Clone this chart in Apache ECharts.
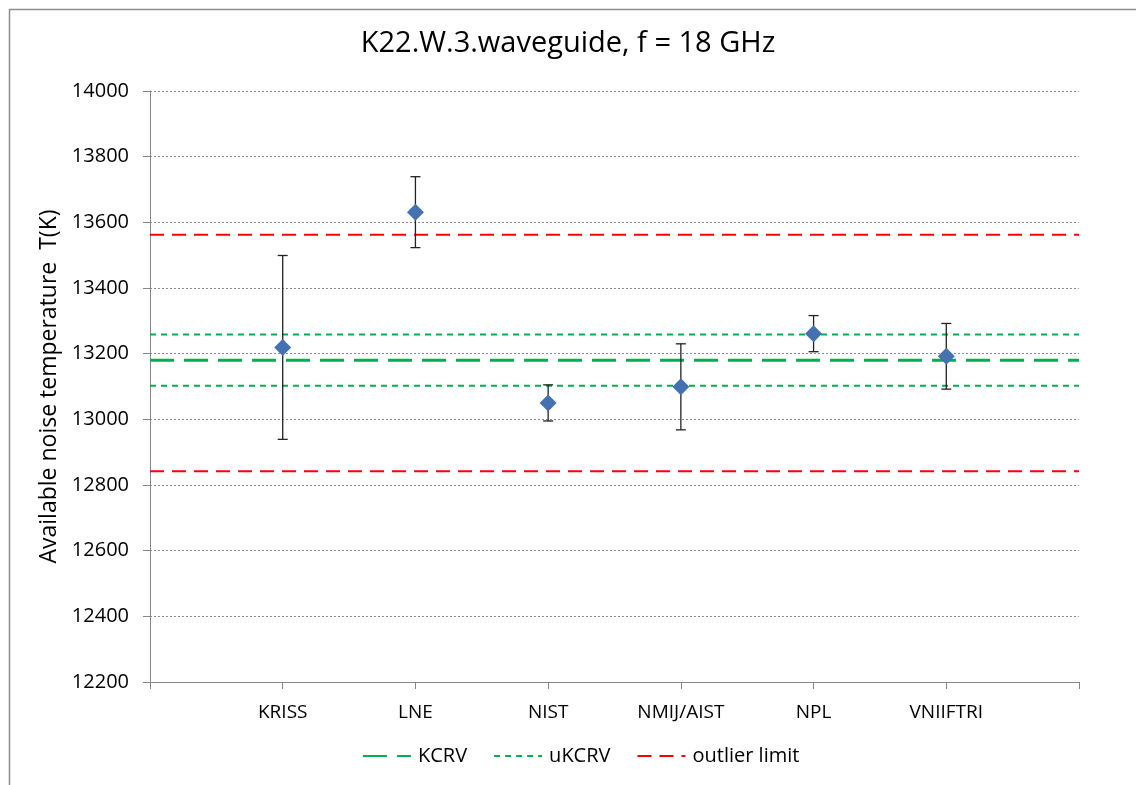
<!DOCTYPE html>
<html>
<head>
<meta charset="utf-8">
<script src="https://cdn.jsdelivr.net/npm/echarts@6/dist/echarts.min.js"></script>
<style>html,body{margin:0;padding:0;background:#fff;}#c{width:1136px;height:785px;}</style>
</head>
<body>
<div id="c"></div>
<script>
// Data
var categories = ['', 'KRISS', 'LNE', 'NIST', 'NMIJ/AIST', 'NPL', 'VNIIFTRI', ''];
var labs = ['KRISS', 'LNE', 'NIST', 'NMIJ/AIST', 'NPL', 'VNIIFTRI'];
var values = [13219, 13631, 13050, 13099, 13261, 13192];
var uncertainties = [280, 108, 55, 131, 55, 100];
var kcrv = 13180;
var ukcrvUpper = 13258;
var ukcrvLower = 13102;
var outlierUpper = 13562;
var outlierLower = 12842;
var yTicks = [12200, 12400, 12600, 12800, 13000, 13200, 13400, 13600, 13800, 14000];

var FONT = 'Open Sans';
var chart = echarts.init(document.getElementById('c'), null, {renderer: 'canvas'});

function hline(v) { return [[0, v], [categories.length - 1, v]]; }

var points = labs.map(function (n, i) { return [categories.indexOf(n), values[i]]; });
var bars = labs.map(function (n, i) {
  return [categories.indexOf(n), values[i] - uncertainties[i], values[i] + uncertainties[i]];
});

var option = {
  backgroundColor: '#fff',
  animation: false,
  textStyle: {fontFamily: FONT},
  title: {
    text: 'K22.W.3.waveguide, f = 18 GHz',
    left: 'center', top: 24,
    textStyle: {fontFamily: FONT, fontSize: 29, fontWeight: 'normal', color: '#000'}
  },
  graphic: [{
    type: 'rect', left: 7, top: 7, silent: true,
    shape: {x: 0, y: 0, width: 1140, height: 800},
    style: {fill: 'none', stroke: '#8c8c8c', lineWidth: 1.5}
  }],
  legend: {
    bottom: 14, left: 357,
    itemWidth: 48, itemHeight: 12, itemGap: 26,
    itemStyle: {opacity: 0},
    textStyle: {fontFamily: FONT, fontSize: 20, color: '#000', padding: [0, 0, 0, 2]},
    data: ['KCRV', 'uKCRV', 'outlier limit']
  },
  grid: {left: 150, right: 57, top: 91, bottom: 103, containLabel: false},
  xAxis: {
    type: 'category', data: categories, boundaryGap: false,
    axisLine: {lineStyle: {color: '#868686', width: 1}},
    axisTick: {show: true, length: 7, interval: 0, lineStyle: {color: '#868686'}},
    axisLabel: {interval: 0, fontFamily: FONT, fontSize: 19, color: '#000', margin: 21},
    splitLine: {show: false}
  },
  yAxis: {
    type: 'value', min: 12200, max: 14000, interval: 200,
    name: 'Available noise temperature  T(K)', nameLocation: 'middle', nameGap: 89,
    nameRotate: 90,
    nameTextStyle: {fontFamily: FONT, fontSize: 23, color: '#000'},
    axisLine: {show: true, lineStyle: {color: '#868686', width: 1}},
    axisTick: {show: true, length: 7, lineStyle: {color: '#868686'}},
    axisLabel: {fontFamily: FONT, fontSize: 20, color: '#000', margin: 21,
      formatter: function (v) { return yTicks.indexOf(v) >= 0 ? String(v) : ''; }},
    splitLine: {show: true, lineStyle: {color: '#8a8a8a', type: [2, 2], width: 1}}
  },
  series: [
    {name: 'KCRV', type: 'line', data: hline(kcrv), symbol: 'none', z: 3,
      lineStyle: {color: '#00B050', width: 3, type: [24, 10]}, itemStyle: {color: '#00B050'}},
    {name: 'uKCRV', type: 'line', data: hline(ukcrvUpper), symbol: 'none', z: 3,
      lineStyle: {color: '#00B050', width: 2, type: [6, 5]}, itemStyle: {color: '#00B050'}},
    {name: 'uKCRV', type: 'line', data: hline(ukcrvLower), symbol: 'none', z: 3,
      lineStyle: {color: '#00B050', width: 2, type: [6, 5]}, itemStyle: {color: '#00B050'}},
    {name: 'outlier limit', type: 'line', data: hline(outlierUpper), symbol: 'none', z: 3,
      lineStyle: {color: '#FF0000', width: 2, type: [14, 8]}, itemStyle: {color: '#FF0000'}},
    {name: 'outlier limit', type: 'line', data: hline(outlierLower), symbol: 'none', z: 3,
      lineStyle: {color: '#FF0000', width: 2, type: [14, 8]}, itemStyle: {color: '#FF0000'}},
    {name: 'err', type: 'custom', z: 4, data: bars,
      renderItem: function (params, api) {
        var x = api.value(0);
        var lo = api.coord([x, api.value(1)]);
        var hi = api.coord([x, api.value(2)]);
        var w = 5;
        var st = {stroke: '#222', lineWidth: 1.3};
        return {type: 'group', children: [
          {type: 'line', shape: {x1: lo[0], y1: lo[1], x2: hi[0], y2: hi[1]}, style: st},
          {type: 'line', shape: {x1: lo[0] - w, y1: lo[1], x2: lo[0] + w, y2: lo[1]}, style: st},
          {type: 'line', shape: {x1: hi[0] - w, y1: hi[1], x2: hi[0] + w, y2: hi[1]}, style: st}
        ]};
      }},
    {name: 'T', type: 'scatter', z: 5, data: points, symbol: 'diamond', symbolSize: [17, 17],
      itemStyle: {color: '#4472B0', opacity: 1}}
  ]
};
chart.setOption(option);
</script>
</body>
</html>
